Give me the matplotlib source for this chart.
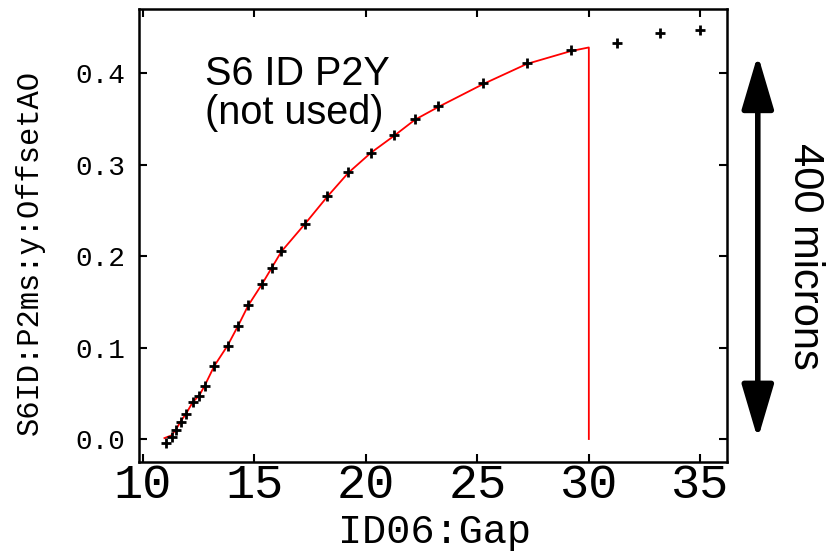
import matplotlib
matplotlib.use('Agg')
import matplotlib.pyplot as plt

# measured points (black crosses)
gap = [11.05, 11.28, 11.49, 11.71, 11.94, 12.22, 12.53, 12.76, 13.20, 13.79,
       14.27, 14.72, 15.33, 15.77, 16.21, 17.26, 18.27, 19.21, 20.23, 21.24,
       22.20, 23.25, 25.26, 27.22, 29.19, 31.25, 33.20, 34.98]
offset = [-0.004, 0.002, 0.010, 0.019, 0.027, 0.040, 0.047, 0.058, 0.080, 0.102,
          0.124, 0.147, 0.169, 0.187, 0.205, 0.235, 0.266, 0.292, 0.313, 0.332,
          0.350, 0.364, 0.389, 0.411, 0.425, 0.433, 0.444, 0.447]

# red fitted curve, drops to zero at gap 30
fit_gap = [10.96, 11.28, 11.49, 11.71, 11.94, 12.22, 12.53, 12.76, 13.20, 13.79,
           14.27, 14.72, 15.33, 15.77, 16.21, 17.26, 18.27, 19.21, 20.23, 21.24,
           22.20, 23.25, 25.26, 27.22, 29.19, 30.0, 30.0]
fit_offset = [0.001, 0.004, 0.011, 0.020, 0.028, 0.040, 0.048, 0.058, 0.080, 0.102,
              0.124, 0.146, 0.169, 0.187, 0.205, 0.235, 0.265, 0.291, 0.313, 0.331,
              0.349, 0.363, 0.388, 0.410, 0.424, 0.428, 0.0]

xticks = [10, 15, 20, 25, 30, 35]
yticks = [0.0, 0.1, 0.2, 0.3, 0.4]

mono = 'Liberation Mono'

fig = plt.figure(figsize=(8.29, 5.57), dpi=100)
ax = fig.add_axes([0.1677, 0.1706, 0.8770 - 0.1677, 0.9838 - 0.1706])

ax.plot(fit_gap, fit_offset, color='red', lw=1.3, zorder=2)
ax.plot(gap, offset, '+', color='black', ms=7, mew=2, zorder=3)

ax.set_xlim(9.82, 36.2)
ax.set_ylim(-0.0251, 0.470)
ax.set_xticks(xticks)
ax.set_yticks(yticks)
ax.set_xticklabels([str(t) for t in xticks], family=mono, fontsize=35)
ax.set_yticklabels(['%.1f' % t for t in yticks], family=mono, fontsize=20)
ax.tick_params(direction='in', length=6, width=1.5, top=True, right=True)
ax.tick_params(axis='x', pad=1)
ax.tick_params(axis='y', pad=10)
for s in ax.spines.values():
    s.set_linewidth(1.8)

fig.text(0.524, 1 - 532 / 557, 'ID06:Gap', family=mono, fontsize=29,
         ha='center', va='center')
fig.text(30 / 829, 1 - 252 / 557, 'S6ID:P2ms:y:OffsetAO', family=mono,
         fontsize=22, rotation=90, ha='center', va='center')

ax.text(12.78, 0.42, 'S6 ID P2Y\n(not used)', family='Liberation Sans',
        fontsize=28.5, ha='left', va='top', linespacing=1.05)

# scale arrow on the right
ax.annotate('', xy=(37.58, 0.0), xytext=(37.58, 0.42),
            arrowprops=dict(arrowstyle='<|-|>,head_length=2.2,head_width=0.65',
                            mutation_scale=15, lw=4, color='black',
                            shrinkA=0, shrinkB=0),
            annotation_clip=False)
fig.text(805 / 829, 1 - 256 / 557, '400 microns', family='Liberation Sans',
         fontsize=30, rotation=-90, ha='center', va='center')

fig.savefig('out.png', dpi=100)
